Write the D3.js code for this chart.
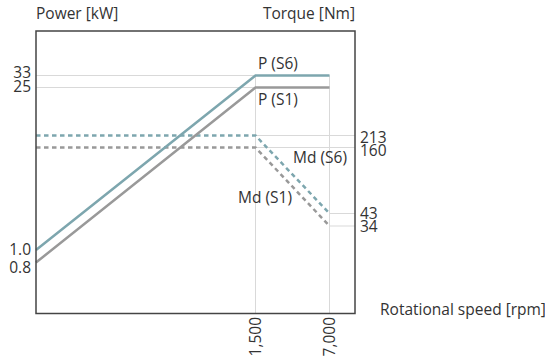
<!DOCTYPE html>
<html>
<head>
<meta charset="utf-8">
<script src="https://cdn.jsdelivr.net/npm/d3@7"></script>
<style>
  html, body { margin: 0; padding: 0; background: #fff; }
  svg text { font-family: "Open Sans", "Noto Sans", sans-serif; fill: #333; }
</style>
</head>
<body>
<svg id="chart" width="545" height="363"></svg>
<script>
// Operating points along the speed axis [rpm]
const speeds = [0, 1500, 7000];
const speedTicks = [1500, 7000];

// Power curves [kW]
const powerS6 = [1.0, 33, 33];
const powerS1 = [0.8, 25, 25];
const powerTicks = [0.8, 1.0, 25, 33];

// Torque curves [Nm]
const torqueS6 = [213, 213, 43];
const torqueS1 = [160, 160, 34];
const torqueTicks = [34, 43, 160, 213];

const teal = "#7da6ae";
const grey = "#999999";
const gridColor = "#d9d9d9";
const frameColor = "#444";

const svg = d3.select("#chart");
const frame = { left: 36, right: 355, top: 31, bottom: 313.5 };

// Schematic (piecewise) scales: key points are spread for readability
const x = d3.scaleLinear()
  .domain([0, 1500, 7000])
  .range([frame.left, 255.5, 329.5]);

const yPower = d3.scaleLinear()
  .domain([0.8, 1.0, 25, 33])
  .range([262.5, 250, 87.5, 75.5]);

const yTorque = d3.scaleLinear()
  .domain([34, 43, 160, 213])
  .range([226, 213.5, 147.5, 135.5]);

const gGrid = svg.append("g").attr("stroke", gridColor).attr("stroke-width", 1);

// Vertical grid lines at the key speeds
speedTicks.forEach(s => {
  gGrid.append("line")
    .attr("x1", x(s)).attr("x2", x(s))
    .attr("y1", yPower(33)).attr("y2", frame.bottom);
});

// Power grid lines run from the left axis to the end of the curve
[25, 33].forEach(p => {
  gGrid.append("line")
    .attr("x1", frame.left).attr("x2", x(7000))
    .attr("y1", yPower(p)).attr("y2", yPower(p));
});

// Torque grid lines run from the curve to the right axis
[[213, 1500], [160, 1500], [43, 7000], [34, 7000]].forEach(([t, s]) => {
  gGrid.append("line")
    .attr("x1", x(s)).attr("x2", frame.right)
    .attr("y1", yTorque(t)).attr("y2", yTorque(t));
});

// Curves
const pts = vals => speeds.map((s, i) => [s, vals[i]]);
const linePower = d3.line().x(d => x(d[0])).y(d => yPower(d[1]));
const lineTorque = d3.line().x(d => x(d[0])).y(d => yTorque(d[1]));

svg.append("path").attr("d", lineTorque(pts(torqueS1)))
  .attr("fill", "none").attr("stroke", grey).attr("stroke-width", 2.5)
  .attr("stroke-dasharray", "4.5,3.5");
svg.append("path").attr("d", lineTorque(pts(torqueS6)))
  .attr("fill", "none").attr("stroke", teal).attr("stroke-width", 2.5)
  .attr("stroke-dasharray", "4.5,3.5");
svg.append("path").attr("d", linePower(pts(powerS1)))
  .attr("fill", "none").attr("stroke", grey).attr("stroke-width", 2.5);
svg.append("path").attr("d", linePower(pts(powerS6)))
  .attr("fill", "none").attr("stroke", teal).attr("stroke-width", 2.5);

// Frame: left, top, right axes and bottom
svg.append("rect")
  .attr("x", frame.left).attr("y", frame.top)
  .attr("width", frame.right - frame.left)
  .attr("height", frame.bottom - frame.top)
  .attr("fill", "none").attr("stroke", frameColor).attr("stroke-width", 1.5);

const fs = 15.5;

// Axis titles
svg.append("text").attr("x", frame.left).attr("y", 19)
  .attr("font-size", fs).text("Power [kW]");
svg.append("text").attr("x", frame.right).attr("y", 19)
  .attr("text-anchor", "end").attr("font-size", fs).text("Torque [Nm]");
svg.append("text").attr("x", 380).attr("y", 315)
  .attr("font-size", fs).text("Rotational speed [rpm]");

// Left tick labels (nudged apart where they crowd)
const powerNudge = { 33: -3.2, 25: -0.8, 1.0: -0.5, 0.8: 5 };
svg.append("g").selectAll("text").data(powerTicks).join("text")
  .attr("x", 31)
  .attr("y", d => yPower(d) + powerNudge[d])
  .attr("dy", "0.36em")
  .attr("text-anchor", "end")
  .attr("font-size", fs)
  .text(d => d3.format(d < 10 ? ".1f" : "d")(d));

// Right tick labels
const torqueNudge = { 213: 2.3, 160: 3, 43: -0.5, 34: 0.5 };
svg.append("g").selectAll("text").data(torqueTicks).join("text")
  .attr("x", 360)
  .attr("y", d => yTorque(d) + torqueNudge[d])
  .attr("dy", "0.36em")
  .attr("font-size", fs)
  .text(d => d);

// Bottom tick labels, rotated
svg.append("g").selectAll("text").data(speedTicks).join("text")
  .attr("transform", d => `translate(${x(d) + 5.5},317) rotate(-90)`)
  .attr("text-anchor", "end")
  .attr("font-size", fs)
  .text(d => d3.format(",")(d));

// Curve labels
svg.append("text").attr("x", x(1500) + 2.5).attr("y", yPower(33) - 6.5)
  .attr("font-size", fs).text("P (S6)");
svg.append("text").attr("x", x(1500) + 2.5).attr("y", yPower(25) + 17)
  .attr("font-size", fs).text("P (S1)");
svg.append("text").attr("x", 347).attr("y", 163)
  .attr("text-anchor", "end").attr("font-size", fs).text("Md (S6)");
svg.append("text").attr("x", 238).attr("y", 202.5)
  .attr("font-size", fs).text("Md (S1)");
</script>
</body>
</html>
